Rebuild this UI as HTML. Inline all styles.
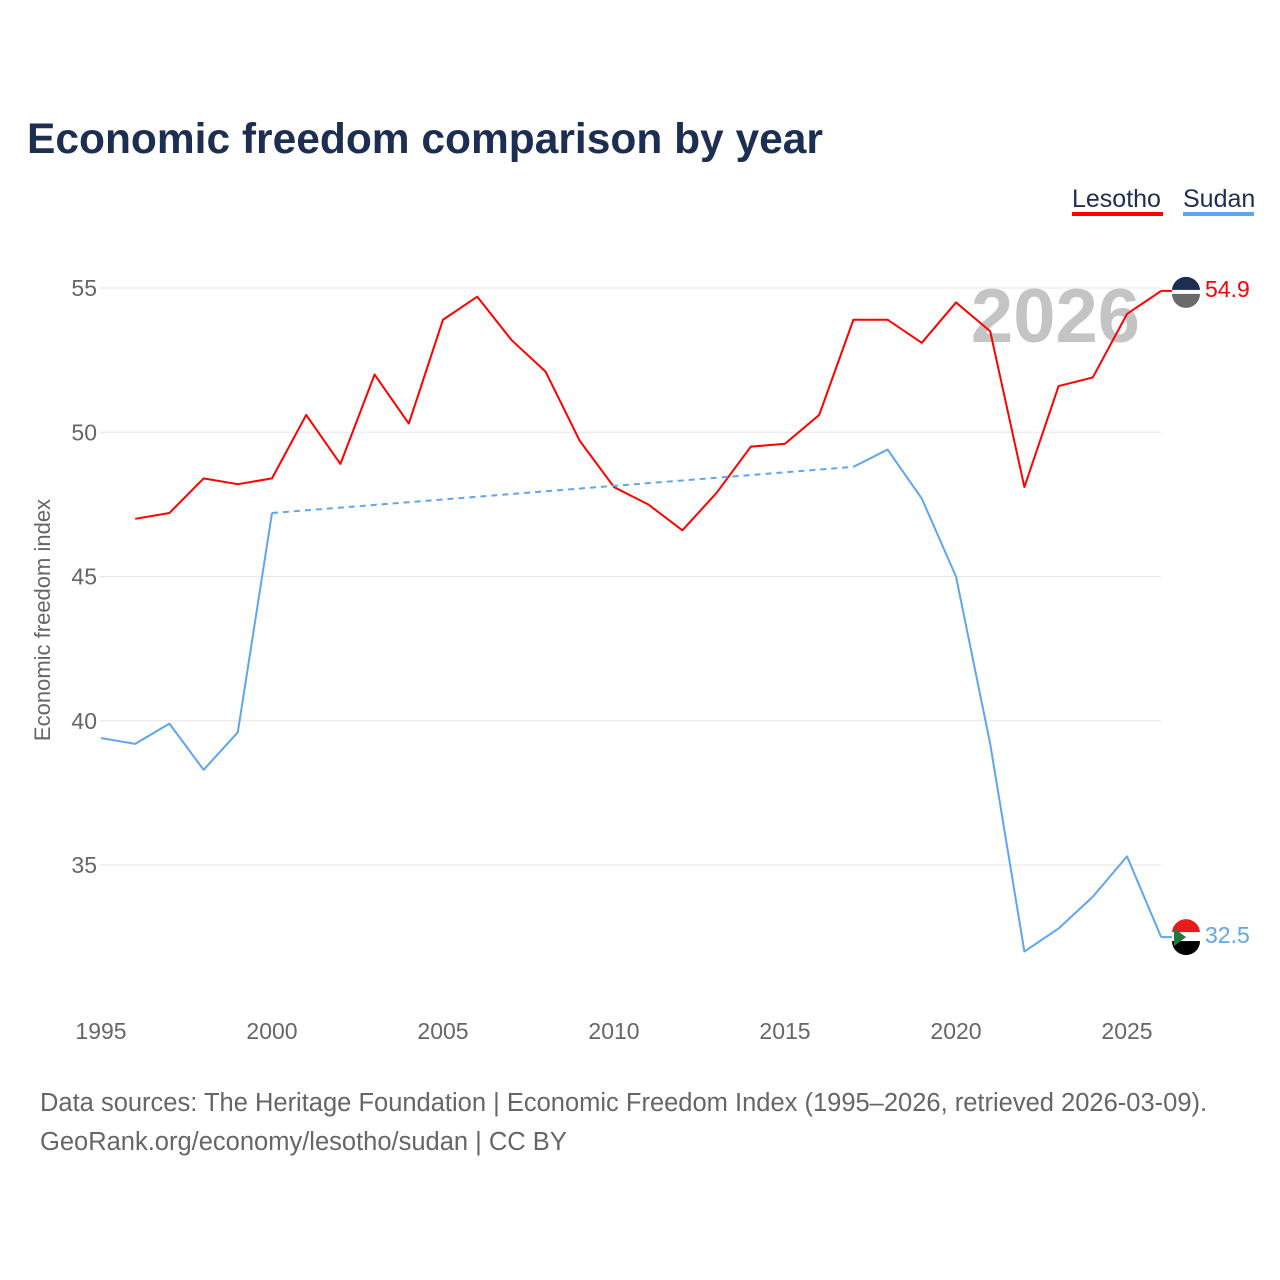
<!DOCTYPE html>
<html><head><meta charset="utf-8"><style>
body{margin:0;background:#fff;font-family:"Liberation Sans",sans-serif;}
#wrap{position:relative;width:1280px;height:1280px;overflow:hidden;}
</style></head><body>
<div id="wrap">
<svg id="chart" width="1280" height="1280">
<text x="27" y="153" font-size="42.5" font-weight="bold" fill="#1c2f52">Economic freedom comparison by year</text>
<g>
<text x="1072" y="207" font-size="25" fill="#1c2f52">Lesotho</text>
<rect x="1072" y="212" width="91" height="4" fill="#ff0000"/>
<text x="1183" y="207" font-size="25" fill="#1c2f52">Sudan</text>
<rect x="1183" y="212" width="71" height="4" fill="#60a5ee"/>
</g>
<text x="1140" y="342" font-size="76" font-weight="bold" fill="#c4c4c4" text-anchor="end">2026</text>
<g id="grid"></g>
<g id="series"></g>
<text transform="translate(50,620) rotate(-90)" font-size="22" fill="#666" text-anchor="middle">Economic freedom index</text>
<text x="40" y="1111" font-size="25.5" fill="#666">Data sources: The Heritage Foundation | Economic Freedom Index (1995–2026, retrieved 2026-03-09).</text>
<text x="40" y="1150" font-size="25.5" fill="#666">GeoRank.org/economy/lesotho/sudan | CC BY</text>
</svg>
</div>
<script>
const years=[1995,1996,1997,1998,1999,2000,2001,2002,2003,2004,2005,2006,2007,2008,2009,2010,2011,2012,2013,2014,2015,2016,2017,2018,2019,2020,2021,2022,2023,2024,2025,2026];
const lesotho=[null,47.0,47.2,48.4,48.2,48.4,50.6,48.9,52.0,50.3,53.9,54.7,53.2,52.1,49.7,48.1,47.5,46.6,47.9,49.5,49.6,50.6,53.9,53.9,53.1,54.5,53.5,48.1,51.6,51.9,54.1,54.9];
const sudan=[39.4,39.2,39.9,38.3,39.6,47.2,null,null,null,null,null,null,null,null,null,null,null,null,null,null,null,null,48.8,49.4,47.7,45.0,39.2,32.0,32.8,33.9,35.3,32.5];
const yTicks=[35,40,45,50,55];
const xTicks=[1995,2000,2005,2010,2015,2020,2025];
const NS="http://www.w3.org/2000/svg";
const x=v=>101+(v-1995)*34.2;
const y=v=>288+(55-v)*28.85;
function mk(tag,attrs,parent){const e=document.createElementNS(NS,tag);for(const k in attrs)e.setAttribute(k,attrs[k]);parent.appendChild(e);return e;}
const grid=document.getElementById('grid'),ser=document.getElementById('series');
yTicks.forEach(t=>{
 const l=mk('line',{x1:100,x2:1161,y1:y(t),y2:y(t),stroke:'#e6e6e6','stroke-width':1},grid);
 
 
 const tx=mk('text',{x:97,y:y(t)+8,'font-size':23,fill:'#666','text-anchor':'end'},grid);tx.textContent=t;
 
 
});
xTicks.forEach(t=>{
 const tx=mk('text',{x:x(t),y:1039,'font-size':23,fill:'#666','text-anchor':'middle'},grid);tx.textContent=t;
 
 
});
function draw(vals,color,name){
 let segs=[],cur=[];
 vals.forEach((v,i)=>{if(v==null){if(cur.length)segs.push(cur);cur=[];}else cur.push([x(years[i]),y(v)]);});
 if(cur.length)segs.push(cur);
 segs.forEach((s,k)=>{
  const p=mk('polyline',{points:s.map(q=>q.join(',')).join(' '),fill:'none',stroke:color,'stroke-width':2,'stroke-linejoin':'round'},ser);
  
  
  if(k>0){const a=segs[k-1][segs[k-1].length-1],b=s[0];
   const d=mk('line',{x1:a[0],y1:a[1],x2:b[0],y2:b[1],stroke:color,'stroke-width':2,'stroke-dasharray':'6,5'},ser);
   
   }
 });
 const lv=vals[vals.length-1],ly=y(lv);
 const ext=mk('line',{x1:x(2026),x2:1174,y1:ly,y2:ly,stroke:color,'stroke-width':2},ser);
 
 
 const c=mk('circle',{cx:1186,cy:ly,r:14,fill:'#555'},ser);
 
 
 const t=mk('text',{x:1205,y:ly+6,'font-size':23,fill:color},ser);t.textContent=lv.toFixed(1);
 
 
 return ly;
}
const l1=draw(lesotho,'#ff0000','lesotho');
const l2=draw(sudan,'#60a5ee','sudan');
mk('path',{d:`M1172,${l1} A14,14 0 0 1 1200,${l1} Z`,fill:'#1c2f52'},ser);
mk('path',{d:`M1172,${l1+3} A14,14 0 0 0 1200,${l1+3} Z`,fill:'#6a6a6a'},ser);
mk('rect',{x:1172,y:l1-1,width:28,height:4,fill:'#fff'},ser);
mk('path',{d:`M1172,${l2-4} A14,14 0 0 1 1200,${l2-4} Z`,fill:'#e61c1c'},ser);
mk('rect',{x:1172,y:l2-5,width:28,height:9,fill:'#fff'},ser);
mk('path',{d:`M1172,${l2+4} A14,14 0 0 0 1200,${l2+4} Z`,fill:'#000'},ser);
mk('path',{d:`M1174,${l2-9} L1186,${l2} L1174,${l2+9} Z`,fill:'#1e7a3a'},ser);
</script>
</body></html>
